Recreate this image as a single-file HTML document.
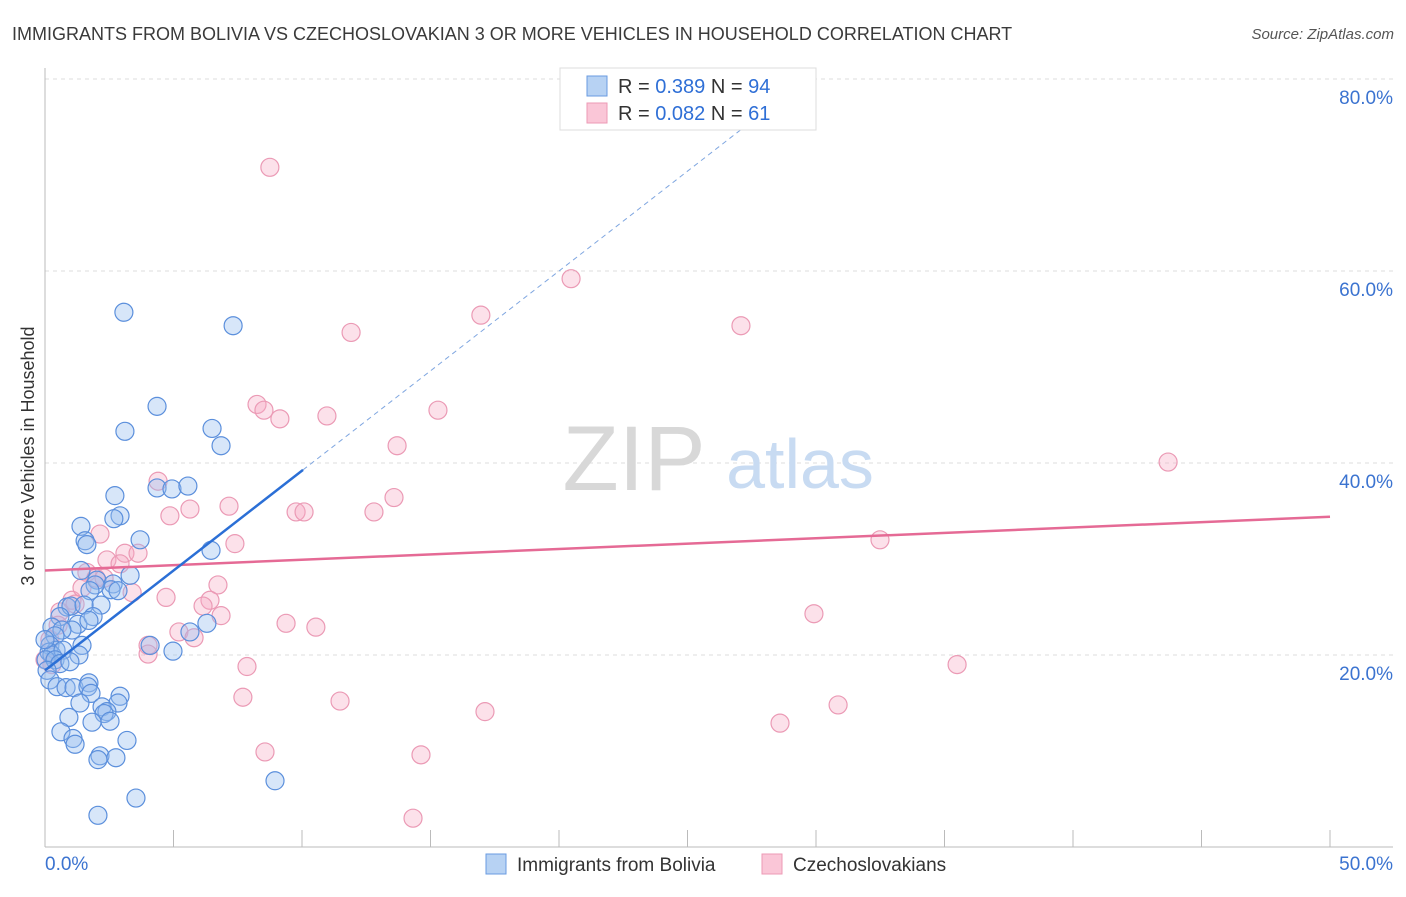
<!DOCTYPE html>
<html><head><meta charset="utf-8"><style>
body{margin:0;background:#fff;font-family:"Liberation Sans",sans-serif;}
svg text{font-family:"Liberation Sans",sans-serif;}
</style></head><body>
<svg id="chart" width="1406" height="892" viewBox="0 0 1406 892" xmlns="http://www.w3.org/2000/svg">
<text x="12" y="40" font-size="18" fill="#3a3a3a">IMMIGRANTS FROM BOLIVIA VS CZECHOSLOVAKIAN 3 OR MORE VEHICLES IN HOUSEHOLD CORRELATION CHART</text>
<text x="1394" y="39" font-size="15" fill="#555" font-style="italic" text-anchor="end">Source: ZipAtlas.com</text>
<g id="grid"></g>
<g>
<text x="634" y="490" font-size="92" fill="#d8d8d8" text-anchor="middle" font-family="Liberation Serif">ZIP</text>
<text x="800" y="488" font-size="70" fill="#c8dbf2" text-anchor="middle">atlas</text>
</g>
<g id="axes"></g>
<g id="pink"></g>
<g id="blue"></g>
<g id="trends"></g>
<text transform="translate(34,456) rotate(-90)" font-size="18" fill="#333" text-anchor="middle">3 or more Vehicles in Household</text>
<g>
<rect x="560" y="68" width="256" height="62" fill="#fff" stroke="#ddd"/>
<rect x="587" y="76" width="20" height="20" fill="#b7d2f3" stroke="#6a9be0"/>
<rect x="587" y="103" width="20" height="20" fill="#fac6d7" stroke="#ec9ab5"/>
<text x="618" y="93" font-size="20" fill="#333">R = <tspan fill="#2f6fd6">0.389</tspan>   N = <tspan fill="#2f6fd6">94</tspan></text>
<text x="618" y="120" font-size="20" fill="#333">R = <tspan fill="#2f6fd6">0.082</tspan>   N =  <tspan fill="#2f6fd6">61</tspan></text>
</g>
<g>
<rect x="486" y="854" width="20" height="20" fill="#b7d2f3" stroke="#6a9be0"/>
<text x="517" y="871" font-size="19" fill="#333">Immigrants from Bolivia</text>
<rect x="762" y="854" width="20" height="20" fill="#fac6d7" stroke="#ec9ab5"/>
<text x="793" y="871" font-size="19" fill="#333">Czechoslovakians</text>
</g>
</svg>
<script>
const blueX=[3.07,7.32,4.36,3.11,6.50,6.85,4.36,4.94,5.56,2.72,2.92,2.68,1.40,3.70,1.56,1.63,6.46,3.31,1.40,2.02,2.65,2.57,2.84,1.95,1.75,0.86,1.01,2.18,1.52,0.58,0.27,1.28,1.87,1.71,1.05,0.66,0.39,0.19,1.44,0.43,0.16,0.27,0.70,1.32,0.04,0.39,0.58,0.97,0.08,0.19,0.47,0.82,1.13,1.71,1.67,1.79,2.92,2.84,1.36,0.93,2.22,2.41,2.30,1.83,2.53,0.62,1.09,1.17,3.19,2.14,2.76,2.06,3.54,2.06,8.95,6.30,5.64,4.98,4.09,0.0];
const blueY=[55.7,54.3,45.9,43.3,43.6,41.8,37.4,37.3,37.6,36.6,34.5,34.2,33.4,32.0,31.9,31.5,30.9,28.3,28.8,27.8,27.4,26.8,26.7,27.3,26.7,25.0,25.1,25.2,25.2,24.0,22.9,23.2,24.0,23.6,22.6,22.6,22.0,21.0,21.0,20.5,20.3,20.0,20.5,20.0,19.5,19.5,19.1,19.3,18.4,17.4,16.7,16.6,16.6,17.1,16.7,16.0,15.7,15.0,15.0,13.5,14.6,14.1,13.9,13.0,13.1,12.0,11.3,10.7,11.1,9.5,9.3,9.1,5.1,3.3,6.9,23.3,22.4,20.4,21.0,21.6];
const pinkX=[8.75,20.47,16.96,11.91,27.08,8.25,8.52,9.14,10.97,15.29,13.70,43.70,4.40,7.16,4.86,5.64,9.77,10.08,12.80,13.58,2.14,7.39,3.11,3.62,2.41,2.92,1.63,1.98,3.39,4.71,6.73,6.42,6.15,6.85,1.05,0.58,0.51,0.19,5.21,5.80,4.01,4.01,9.38,10.54,29.92,32.49,7.86,35.49,7.70,11.48,17.12,30.86,28.60,8.56,14.63,14.32,0.0,0.27,1.44,1.17,2.30];
const pinkY=[70.8,59.2,55.4,53.6,54.3,46.1,45.5,44.6,44.9,45.5,41.8,40.1,38.1,35.5,34.5,35.2,34.9,34.9,34.9,36.4,32.6,31.6,30.6,30.6,29.9,29.5,28.6,28.0,26.5,26.0,27.3,25.7,25.1,24.1,25.7,24.5,23.1,21.6,22.4,21.8,21.0,20.1,23.3,22.9,24.3,32.0,18.8,19.0,15.6,15.2,14.1,14.8,12.9,9.9,9.6,3.0,19.5,19.0,27.0,25.3,28.0];
const yTicks=[20,40,60,80];
const yTickLabels=["20.0%","40.0%","60.0%","80.0%"];
const xTickVals=[0,5,10,15,20,25,30,35,40,45,50];
const blueTrend=[18.4,2.08]; // intercept, slope
const pinkTrend=[28.8,0.112];
const blueSolidEnd=10.04, blueDashEnd=27.3;

const NS="http://www.w3.org/2000/svg";
const X=v=>45+v*25.7, Y=v=>847-v*9.6;
function mk(tag,attrs,parent){const e=document.createElementNS(NS,tag);for(const k in attrs)e.setAttribute(k,attrs[k]);parent.appendChild(e);return e;}
const grid=document.getElementById('grid'),axes=document.getElementById('axes');
yTicks.forEach((t,i)=>{
  const l=mk('line',{x1:45,x2:1393,y1:Y(t),y2:Y(t),stroke:'#ddd','stroke-dasharray':'4,4'},grid);
  
  
  const tx=mk('text',{x:1393,y:Y(t)+25,'font-size':19,fill:'#3b73d0','text-anchor':'end'},axes);
  tx.textContent=yTickLabels[i];
  
  
});
const ya=mk('line',{x1:45,x2:45,y1:68,y2:847,stroke:'#bbb'},axes);


const xa=mk('line',{x1:45,x2:1393,y1:847,y2:847,stroke:'#bbb'},axes);


xTickVals.forEach(v=>{
  const t=mk('line',{x1:X(v),x2:X(v),y1:830,y2:847,stroke:'#bbb'},axes);
  
  
});
const xl0=mk('text',{x:45,y:870,'font-size':19,fill:'#3b73d0'},axes);xl0.textContent='0.0%';


const xl1=mk('text',{x:1393,y:870,'font-size':19,fill:'#3b73d0','text-anchor':'end'},axes);xl1.textContent='50.0%';



const pg=document.getElementById('pink');
pinkX.forEach((x,i)=>{
  const c=mk('circle',{cx:X(x),cy:Y(pinkY[i]),r:9,fill:'rgba(246,170,195,0.35)',stroke:'#eb9ab5','stroke-width':1.2},pg);
  
  
});
const bg=document.getElementById('blue');
blueX.forEach((x,i)=>{
  const c=mk('circle',{cx:X(x),cy:Y(blueY[i]),r:9,fill:'rgba(150,190,240,0.38)',stroke:'#5b8fdc','stroke-width':1.2},bg);
  
  
});
const tg=document.getElementById('trends');
const pl=mk('line',{x1:X(0),y1:Y(pinkTrend[0]),x2:X(50),y2:Y(pinkTrend[0]+pinkTrend[1]*50),stroke:'#e56a95','stroke-width':2.5},tg);


const bl=mk('line',{x1:X(0),y1:Y(blueTrend[0]),x2:X(blueSolidEnd),y2:Y(blueTrend[0]+blueTrend[1]*blueSolidEnd),stroke:'#2b6fd6','stroke-width':2.5},tg);


const bd=mk('line',{x1:X(blueSolidEnd),y1:Y(blueTrend[0]+blueTrend[1]*blueSolidEnd),x2:X(blueDashEnd),y2:Y(blueTrend[0]+blueTrend[1]*blueDashEnd),stroke:'#7fa6e0','stroke-width':1,'stroke-dasharray':'5,4'},tg);


</script>
</body></html>
